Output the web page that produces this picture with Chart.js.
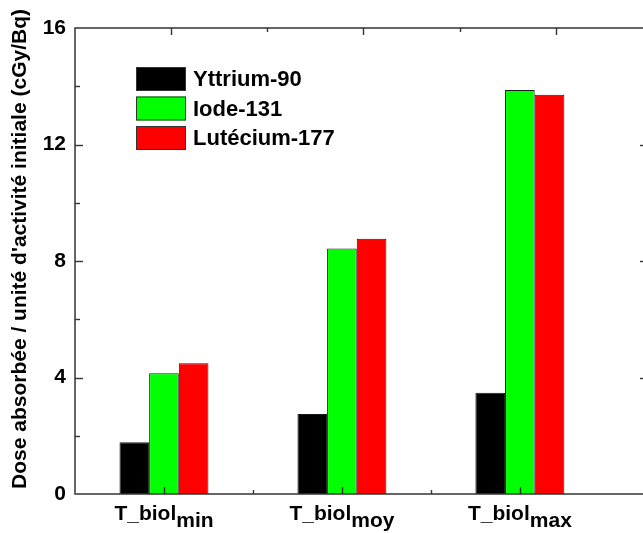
<!DOCTYPE html>
<html>
<head>
<meta charset="utf-8">
<script src="https://cdn.jsdelivr.net/npm/chart.js@4"></script>
<style>
    html, body { margin: 0; padding: 0; background: #fff; overflow: hidden; }
    #wrap { position: absolute; left: 0; top: 0; width: 655px; height: 533px; }
</style>
</head>
<body>
<div id="wrap"><canvas id="doseChart" width="655" height="533"></canvas></div>
<script>
// Data
const categories = ['min', 'moy', 'max'];
const categoryPositions = [1, 2, 3];
const seriesNames = ['Yttrium-90', 'Iode-131', 'Lutécium-177'];
const yttrium90 = [1.78, 2.75, 3.48];
const iode131 = [4.15, 8.43, 13.87];
const lutecium177 = [4.49, 8.76, 13.71];
const yTicks = [0, 4, 8, 12, 16];
const xTickValues = [1, 1.5, 2, 2.5, 3];

const seriesColors = ['#000000', '#00ff00', '#ff0000'];
const FONT = '"Liberation Sans", Arial, sans-serif';
// the top frame axis has its own range in the original figure
const TOP_MIN = 0.5, TOP_MAX = 3.48;

function toPoints(values) {
    return categoryPositions.map((x, i) => ({ x: x, y: values[i] }));
}

function tickLine(ctx, x0, y0, x1, y1) {
    ctx.beginPath();
    ctx.moveTo(x0, y0);
    ctx.lineTo(x1, y1);
    ctx.stroke();
}

// Frame, inward ticks, legend, x labels and y title
const decorations = {
    id: 'decorations',
    afterDraw(chart) {
        const { ctx, chartArea: a, scales: { x, y } } = chart;
        const topPixel = v => a.left + (v - TOP_MIN) / (TOP_MAX - TOP_MIN) * (a.right - a.left);
        ctx.save();

        // frame
        ctx.strokeStyle = '#333';
        ctx.lineWidth = 1.5;
        ctx.strokeRect(a.left, a.top, a.right - a.left, a.bottom - a.top);

        // y ticks, both sides
        ctx.lineWidth = 1.4;
        for (let v = 2; v < 16; v += 2) {
            const py = Math.round(y.getPixelForValue(v)) + 0.5;
            const len = v % 4 === 0 ? 8 : 5;
            tickLine(ctx, a.left, py, a.left + len, py);
            tickLine(ctx, a.right, py, a.right - len, py);
        }
        // x ticks: bottom on the category axis, top on the frame axis
        xTickValues.forEach(v => {
            const len = Number.isInteger(v) ? 7 : 4;
            const pb = Math.round(x.getPixelForValue(v)) + 0.5;
            const pt = Math.round(topPixel(v)) + 0.5;
            tickLine(ctx, pb, a.bottom, pb, a.bottom - len);
            tickLine(ctx, pt, a.top, pt, a.top + len);
        });

        // category labels with subscripts
        ctx.fillStyle = '#000';
        ctx.textBaseline = 'alphabetic';
        ctx.textAlign = 'left';
        categories.forEach((sub, i) => {
            const cx = x.getPixelForValue(categoryPositions[i]);
            ctx.font = 'bold 21px ' + FONT;
            const w1 = ctx.measureText('T_biol').width;
            const w2 = ctx.measureText(sub).width;
            const sx = cx - (w1 + w2) / 2;
            ctx.fillText('T_biol', sx, a.bottom + 26);
            ctx.fillText(sub, sx + w1, a.bottom + 33);
        });

        // y axis title
        ctx.save();
        ctx.translate(20, 249);
        ctx.rotate(-Math.PI / 2);
        ctx.textAlign = 'center';
        ctx.textBaseline = 'middle';
        ctx.font = 'bold 21px ' + FONT;
        ctx.fillText("Dose absorbée / unité d'activité initiale (cGy/Bq)", 0, 0);
        ctx.restore();

        // legend
        chart.data.datasets.forEach((ds, i) => {
            const bx = 136, by = 67 + i * 29.5;
            ctx.fillStyle = ds.backgroundColor;
            ctx.fillRect(bx, by, 50, 24);
            ctx.strokeStyle = '#333';
            ctx.lineWidth = 1;
            ctx.strokeRect(bx + 0.5, by + 0.5, 49, 23);
            ctx.fillStyle = '#000';
            ctx.font = 'bold 22px ' + FONT;
            ctx.textBaseline = 'middle';
            ctx.fillText(ds.label, bx + 57, by + 13);
        });

        ctx.restore();
    }
};

const ctx = document.getElementById('doseChart').getContext('2d');

new Chart(ctx, {
    type: 'bar',
    data: {
        datasets: [yttrium90, iode131, lutecium177].map((vals, i) => ({
            label: seriesNames[i],
            data: toPoints(vals),
            backgroundColor: seriesColors[i],
            borderColor: '#1a1a1a',
            borderWidth: 1,
            categoryPercentage: 0.5,
            barPercentage: 1.0
        }))
    },
    options: {
        responsive: false,
        devicePixelRatio: 1,
        animation: false,
        layout: { padding: { top: 28, bottom: 39, right: 7, left: 0 } },
        plugins: {
            legend: { display: false },
            tooltip: { enabled: false }
        },
        scales: {
            x: {
                type: 'linear',
                min: 0.5,
                max: 3.72,
                offset: false,
                display: false,
                afterBuildTicks: (scale) => {
                    scale.ticks = categoryPositions.map(v => ({ value: v }));
                }
            },
            y: {
                min: 0,
                max: 16,
                afterFit: (scale) => { scale.width = 75; },
                afterBuildTicks: (scale) => {
                    scale.ticks = yTicks.map(v => ({ value: v }));
                },
                grid: { display: false, drawTicks: false },
                border: { display: false },
                ticks: {
                    padding: 9,
                    color: '#000',
                    font: { family: FONT, size: 21, weight: 'bold' }
                }
            }
        }
    },
    plugins: [decorations]
});
</script>
</body>
</html>
